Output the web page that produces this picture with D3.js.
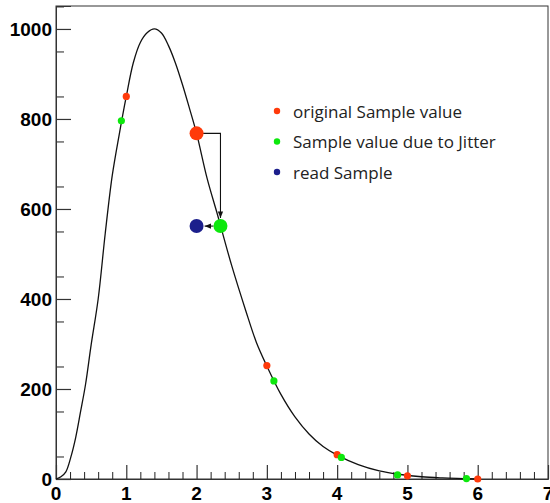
<!DOCTYPE html>
<html>
<head>
<meta charset="utf-8">
<script src="https://cdn.jsdelivr.net/npm/d3@7"></script>
<style>
  body { margin: 0; background: #fff; }
  #chart { width: 550px; height: 503px; }
</style>
</head>
<body>
<div id="chart"></div>
<script>
// curve
const curveX = [0, 0.07, 0.14, 0.21, 0.28, 0.35, 0.42, 0.5, 0.6, 0.7, 0.8, 0.9, 1.0, 1.1, 1.2, 1.3, 1.4, 1.5, 1.6, 1.7, 1.8, 1.9, 2.0, 2.15, 2.3, 2.5, 2.7, 2.85, 3.0, 3.2, 3.4, 3.6, 3.8, 4.0, 4.3, 4.6, 4.9, 5.2, 5.5, 5.8, 6.0];
const curveY = [0, 5, 16, 48, 92, 150, 210, 298, 400, 545, 674, 766, 850, 925, 970, 992, 1000, 991, 963, 924, 876, 823, 768, 668, 586, 474, 374, 304, 251, 188, 138, 100, 72, 53, 32, 18, 10, 5, 2.5, 1, 0];

// sample points
const originalX = [1.0, 2.0, 3.0, 4.0, 5.0, 6.0];
const originalY = [850, 768, 252, 54, 7, 0];
const jitterX = [0.93, 2.34, 3.1, 4.06, 4.86, 5.84];
const jitterY = [796, 562, 218, 48, 9, 1];
const readX = [2.0];
const readY = [562];
const highlightIndex = 1; // the sample shown with big markers

const xTicks = [0, 1, 2, 3, 4, 5, 6, 7];
const yTicks = [0, 200, 400, 600, 800, 1000];
const legendLabels = ["original Sample value", "Sample value due to Jitter", "read Sample"];
const legendColors = ["#ff3a0a", "#0de80d", "#1c1f8c"];

const W = 550, H = 503;
const margin = { top: 6, right: 2, bottom: 24, left: 56 };

const svg = d3.select("#chart").append("svg")
  .attr("width", W)
  .attr("height", H);

svg.append("rect").attr("width", W).attr("height", H).attr("fill", "#fff");

const x = d3.scaleLinear().domain([0, 7]).range([margin.left, W - margin.right]);
const y = d3.scaleLinear().domain([0, 1051]).range([H - margin.bottom, margin.top]);

// frame
svg.append("rect")
  .attr("x", x(0)).attr("y", y(1051))
  .attr("width", x(7) - x(0)).attr("height", y(0) - y(1051))
  .attr("fill", "none").attr("stroke", "#333").attr("stroke-width", 1);

// x axis with minor ticks
const xMinor = d3.range(0, 7.001, 0.2).filter(v => Math.abs(v - Math.round(v)) > 1e-6);
svg.append("g")
  .attr("transform", `translate(0,${y(0)})`)
  .call(d3.axisTop(x).tickValues(xMinor).tickSize(7).tickFormat(""))
  .call(g => g.select(".domain").remove())
  .call(g => g.selectAll("line").attr("stroke", "#222"));
const xAxis = svg.append("g")
  .attr("transform", `translate(0,${y(0)})`)
  .call(d3.axisTop(x).tickValues(xTicks).tickSize(14).tickFormat(""))
  .call(g => g.select(".domain").attr("stroke", "#333"))
  .call(g => g.selectAll("line").attr("stroke", "#333").attr("stroke-width", 1.2));

svg.append("g").selectAll("text")
  .data(xTicks)
  .join("text")
  .attr("x", d => x(d))
  .attr("y", y(0) + 21)
  .attr("text-anchor", "middle")
  .attr("font-family", "Liberation Sans, Arial, sans-serif")
  .attr("font-weight", "bold")
  .attr("font-size", 19)
  .text(d => d);

// y axis with minor ticks
const yMinor = d3.range(50, 1051, 100);
svg.append("g")
  .attr("transform", `translate(${x(0)},0)`)
  .call(d3.axisRight(y).tickValues(yMinor).tickSize(8).tickFormat(""))
  .call(g => g.select(".domain").remove())
  .call(g => g.selectAll("line").attr("stroke", "#222"));
svg.append("g")
  .attr("transform", `translate(${x(0)},0)`)
  .call(d3.axisRight(y).tickValues(yTicks).tickSize(15).tickFormat(""))
  .call(g => g.select(".domain").attr("stroke", "#333"))
  .call(g => g.selectAll("line").attr("stroke", "#333").attr("stroke-width", 1.2));

svg.append("g").selectAll("text")
  .data(yTicks)
  .join("text")
  .attr("x", x(0) - 4)
  .attr("y", d => y(d))
  .attr("dy", "0.36em")
  .attr("text-anchor", "end")
  .attr("font-family", "Liberation Sans, Arial, sans-serif")
  .attr("font-weight", "bold")
  .attr("font-size", 19)
  .text(d => d);

// curve
const curve = curveX.map((v, i) => [v, curveY[i]]);
svg.append("path")
  .datum(curve)
  .attr("fill", "none")
  .attr("stroke", "#111")
  .attr("stroke-width", 1.3)
  .attr("d", d3.line().x(d => x(d[0])).y(d => y(d[1])).curve(d3.curveCatmullRom));

// arrows: original -> jitter -> read
const defs = svg.append("defs");
defs.append("marker")
  .attr("id", "arrow")
  .attr("viewBox", "0 0 10 10")
  .attr("refX", 10).attr("refY", 5)
  .attr("markerWidth", 6).attr("markerHeight", 6)
  .attr("orient", "auto")
  .append("path").attr("d", "M0,1 L10,5 L0,9 Z").attr("fill", "#111");

const bigR = 7;
const ox = x(originalX[highlightIndex]), oy = y(originalY[highlightIndex]);
const jx = x(jitterX[highlightIndex]), jy = y(jitterY[highlightIndex]);
const rx = x(readX[0]), ry = y(readY[0]);

svg.append("path")
  .attr("d", `M${ox},${oy} H${jx} V${jy - bigR - 1}`)
  .attr("fill", "none").attr("stroke", "#111").attr("stroke-width", 1.1)
  .attr("marker-end", "url(#arrow)");
svg.append("path")
  .attr("d", `M${jx - bigR},${jy} H${rx + bigR + 1}`)
  .attr("fill", "none").attr("stroke", "#111").attr("stroke-width", 1.1)
  .attr("marker-end", "url(#arrow)");

// markers
function drawPoints(xs, ys, color) {
  svg.append("g").selectAll("circle")
    .data(xs.map((v, i) => ({ x: v, y: ys[i], i })))
    .join("circle")
    .attr("cx", d => x(d.x))
    .attr("cy", d => y(d.y))
    .attr("r", d => d.i === highlightIndex ? bigR : 3.6)
    .attr("fill", color);
}
drawPoints(originalX, originalY, legendColors[0]);
drawPoints(jitterX, jitterY, legendColors[1]);
svg.append("circle")
  .attr("cx", rx).attr("cy", ry).attr("r", bigR)
  .attr("fill", legendColors[2]);

// legend
const legend = svg.append("g").attr("transform", "translate(277,111)");
legendLabels.forEach((label, i) => {
  const row = legend.append("g").attr("transform", `translate(0,${i * 30.5})`);
  row.append("circle").attr("r", 3.2).attr("fill", legendColors[i]);
  row.append("text")
    .attr("x", 16)
    .attr("y", 6.5)
    .attr("font-family", "Open Sans, sans-serif")
    .attr("font-size", 17)
    .attr("fill", "#222")
    .text(label);
});
</script>
</body>
</html>
